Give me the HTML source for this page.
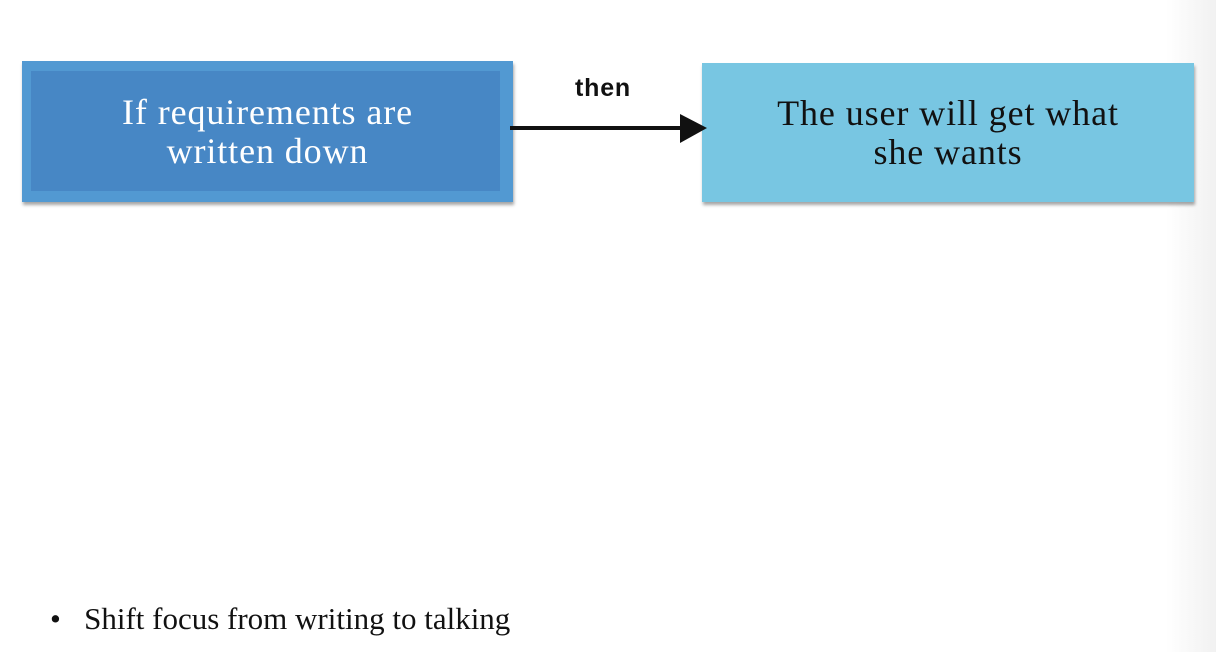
<!DOCTYPE html>
<html><head><meta charset="utf-8"><style>
body{margin:0;width:1216px;height:652px;overflow:hidden;background:#fff;position:relative;font-family:"Liberation Serif",serif}
.edge{position:absolute;right:0;top:0;width:50px;height:652px;background:linear-gradient(to right,rgba(240,240,240,0),#f1f1f1)}
.box{position:absolute;box-shadow:1px 3px 3px rgba(0,0,0,0.35);display:flex;align-items:center;justify-content:center;text-align:center;font-size:36px;letter-spacing:0.9px;line-height:39px}
#b1{left:22px;top:61px;width:491px;height:141px;background:#5299d2;color:#fff}
#b1 .in{position:absolute;left:9px;top:10px;right:13px;bottom:11px;background:#4787c5}
#b1 span{position:relative}
#b2{left:702px;top:63px;width:492px;height:139px;background:#78c6e2;color:#111}
.then{position:absolute;left:575px;top:74px;font:bold 25px "Liberation Sans",sans-serif;letter-spacing:0.8px;color:#111}
.bul{position:absolute;left:50px;top:601px;font-size:31px;color:#111}
</style></head><body>
<div class="edge"></div>
<div class="box" id="b1"><div class="in"></div><span>If requirements are<br>written down</span></div>
<div class="box" id="b2"><span>The user will get what<br>she wants</span></div>
<div class="then">then</div>
<svg style="position:absolute;left:0;top:0" width="1216" height="652">
<line x1="510" y1="128" x2="684" y2="128" stroke="#111" stroke-width="4"/>
<polygon points="680,114 707,128 680,143" fill="#111"/>
</svg>
<div class="bul">•&nbsp;&nbsp;&nbsp;Shift focus from writing to talking</div>
</body></html>
